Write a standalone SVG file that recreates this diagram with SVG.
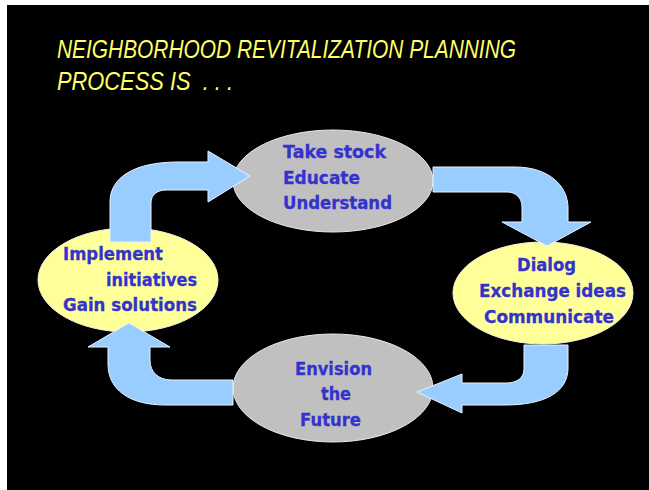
<svg xmlns="http://www.w3.org/2000/svg" width="649" height="490" viewBox="0 0 649 490">
<style>
.title{font-family:"Liberation Sans",Arial,sans-serif;font-style:italic;font-size:25px;fill:#FFFF66}
.lbl{font-family:"DejaVu Sans",Verdana,sans-serif;font-weight:bold;font-size:18.5px;fill:#3333CC;stroke:#3333CC;stroke-width:0.3}
.gray{fill:#C0C0C0;stroke:#E8E8E8;stroke-width:1}
.yel{fill:#FFFF99;stroke:#F4F4E0;stroke-width:1}
.arr{fill:#99CCFF;stroke:#EAF4FF;stroke-width:1}
</style>
<rect x="0" y="0" width="649" height="490" fill="#FFFFFF"/>
<rect x="7" y="5" width="642" height="485" fill="#000000"/>
<g id="title">
<text class="title" x="57" y="58" textLength="459" lengthAdjust="spacingAndGlyphs">NEIGHBORHOOD REVITALIZATION PLANNING</text>
<text class="title" x="57" y="90" textLength="176" lengthAdjust="spacingAndGlyphs" xml:space="preserve">PROCESS IS  . . .</text>
</g>
<g id="node-take-stock">
<ellipse class="gray" cx="333" cy="181" rx="100" ry="51"/>
<text class="lbl" x="283" y="158" textLength="103" lengthAdjust="spacingAndGlyphs">Take stock</text>
<text class="lbl" x="283" y="184" textLength="77" lengthAdjust="spacingAndGlyphs">Educate</text>
<text class="lbl" x="283" y="209" textLength="109" lengthAdjust="spacingAndGlyphs">Understand</text>
</g>
<g id="node-dialog">
<ellipse class="yel" cx="543" cy="293" rx="90" ry="51"/>
<text class="lbl" x="517" y="271" textLength="59" lengthAdjust="spacingAndGlyphs">Dialog</text>
<text class="lbl" x="479" y="297" textLength="147" lengthAdjust="spacingAndGlyphs">Exchange ideas</text>
<text class="lbl" x="484" y="323" textLength="130" lengthAdjust="spacingAndGlyphs">Communicate</text>
</g>
<g id="node-envision">
<ellipse class="gray" cx="333" cy="388" rx="100" ry="54"/>
<text class="lbl" x="295" y="375" textLength="77" lengthAdjust="spacingAndGlyphs">Envision</text>
<text class="lbl" x="321" y="400" textLength="30" lengthAdjust="spacingAndGlyphs">the</text>
<text class="lbl" x="300" y="426" textLength="61" lengthAdjust="spacingAndGlyphs">Future</text>
</g>
<g id="node-implement">
<ellipse class="yel" cx="128" cy="280" rx="90" ry="52"/>
<text class="lbl" x="63" y="260" textLength="100" lengthAdjust="spacingAndGlyphs">Implement</text>
<text class="lbl" x="106" y="286" textLength="91" lengthAdjust="spacingAndGlyphs">initiatives</text>
<text class="lbl" x="63" y="311" textLength="134" lengthAdjust="spacingAndGlyphs">Gain solutions</text>
</g>
<g id="connectors">
<path class="arr" d="M110,242 L110,202 C110,177 135,162 178,162 L208,162 L208,151 L250,176 L208,202 L208,190 L166,190 C157,190 151,195 151,203 L151,242 Z"/>
<path class="arr" d="M433,167 L515,167 C548,167 568,185 568,208 L568,222 L591,222 L547,246 L502,222 L522,222 L522,207 C522,198 516,192 507,192 L433,192 Z"/>
<path class="arr" d="M524,345 L568,345 L568,368 C568,392 545,405 505,405 L462,405 L462,413 L417,392 L462,374 L462,383 L506,383 C517,383 524,378 524,369 Z"/>
<path class="arr" d="M233,380 L172,380 C158,380 150,372 150,360 L150,347 L170,347 L129,323 L88,347 L108,347 L108,364 C108,390 130,405 165,405 L233,405 Z"/>
</g>
</svg>
